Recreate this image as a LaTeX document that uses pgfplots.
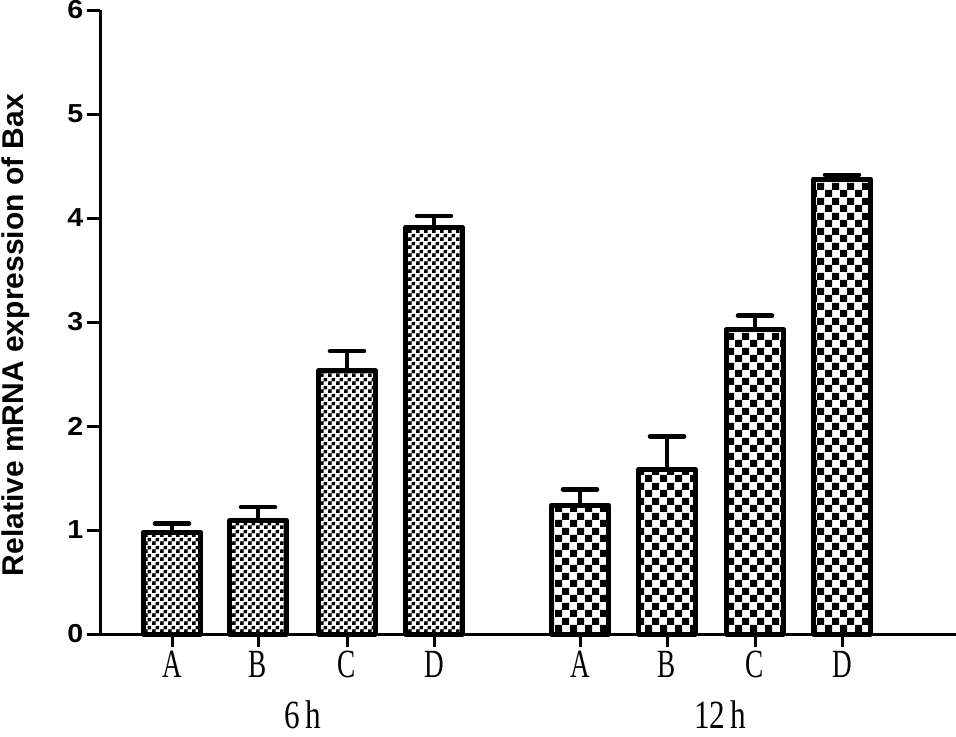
\documentclass[border=0pt]{standalone}
\usepackage{fontspec}
\setmainfont{Liberation Serif}
\setsansfont{Liberation Sans}
\usepackage{pgfplots}
\pgfplotsset{compat=1.18}
\usetikzlibrary{patterns}
\pgfdeclarepatternformonly{finecheck}{\pgfpointorigin}{\pgfqpoint{4pt}{4pt}}{\pgfqpoint{4pt}{4pt}}{%
  \pgfpathrectangle{\pgfpointorigin}{\pgfqpoint{2pt}{2pt}}%
  \pgfpathrectangle{\pgfqpoint{2pt}{2pt}}{\pgfqpoint{2pt}{2pt}}%
  \pgfusepath{fill}}
\pgfdeclarepatternformonly{bigcheck}{\pgfpointorigin}{\pgfqpoint{7.5pt}{7.5pt}}{\pgfqpoint{7.5pt}{7.5pt}}{%
  \pgfpathrectangle{\pgfpointorigin}{\pgfqpoint{3.75pt}{3.75pt}}%
  \pgfpathrectangle{\pgfqpoint{3.75pt}{3.75pt}}{\pgfqpoint{3.75pt}{3.75pt}}%
  \pgfusepath{fill}}
\begin{document}
\begin{tikzpicture}
\useasboundingbox (0,0) rectangle (478pt,368pt);
\begin{axis}[
  at={(50pt,51pt)}, anchor=south west,
  scale only axis, width=428pt, height=312pt,
  xmin=1.0, xmax=9.56, ymin=0, ymax=6,
  clip=false,
  axis x line*=bottom, axis y line*=left,
  axis line style={line width=1.5pt},
  tick align=outside,
  major tick length=6.5pt,
  every tick/.style={line width=1.5pt, black},
  ytick={0,1,2,3,4,5,6},
  xtick={1.72,2.58,3.47,4.34,5.80,6.67,7.55,8.42},
  xticklabels={A,B,C,D,A,B,C,D},
  /pgf/number format/assume math mode=true,
  yticklabel style={font=\fontsize{13}{13}\selectfont\sffamily\bfseries, xscale=1.1, inner sep=1.5pt},
  xticklabel style={font=\fontsize{20}{20}\selectfont, xscale=0.68, inner sep=1pt, yshift=-1pt},
  ylabel={Relative mRNA expression of Bax},
  ylabel style={at={(rel axis cs:-0.099,0.479)}, anchor=center, font=\fontsize{15}{15}\selectfont\sffamily\bfseries},
]
\addplot[ybar, bar width=0.57, draw=black, line width=2.5pt, line join=round, pattern=finecheck, pattern color=black,
  error bars/.cd, y dir=plus, y explicit,
  error bar style={line width=2pt, black, solid},
  error mark options={rotate=90, line width=2.3pt, mark size=8.5pt, black, line cap=round}]
coordinates {
 (1.72,0.98) +- (0,0.08)
 (2.58,1.09) +- (0,0.13)
 (3.47,2.53) +- (0,0.19)
 (4.34,3.91) +- (0,0.11)
};
\addplot[ybar, bar width=0.57, draw=black, line width=2.5pt, line join=round, pattern=bigcheck, pattern color=black,
  error bars/.cd, y dir=plus, y explicit,
  error bar style={line width=2pt, black, solid},
  error mark options={rotate=90, line width=2.3pt, mark size=8.5pt, black, line cap=round}]
coordinates {
 (5.80,1.24) +- (0,0.15)
 (6.67,1.58) +- (0,0.32)
 (7.55,2.93) +- (0,0.13)
 (8.42,4.375) +- (0,0.04)
};
\node[font=\fontsize{20}{20}\selectfont, xscale=0.78, anchor=base, inner sep=0pt] at (axis cs:3.03,-0.91) {6\,h};
\node[font=\fontsize{20}{20}\selectfont, xscale=0.78, anchor=base, inner sep=0pt] at (axis cs:7.20,-0.91) {12\,h};
\end{axis}
\end{tikzpicture}
\end{document}
